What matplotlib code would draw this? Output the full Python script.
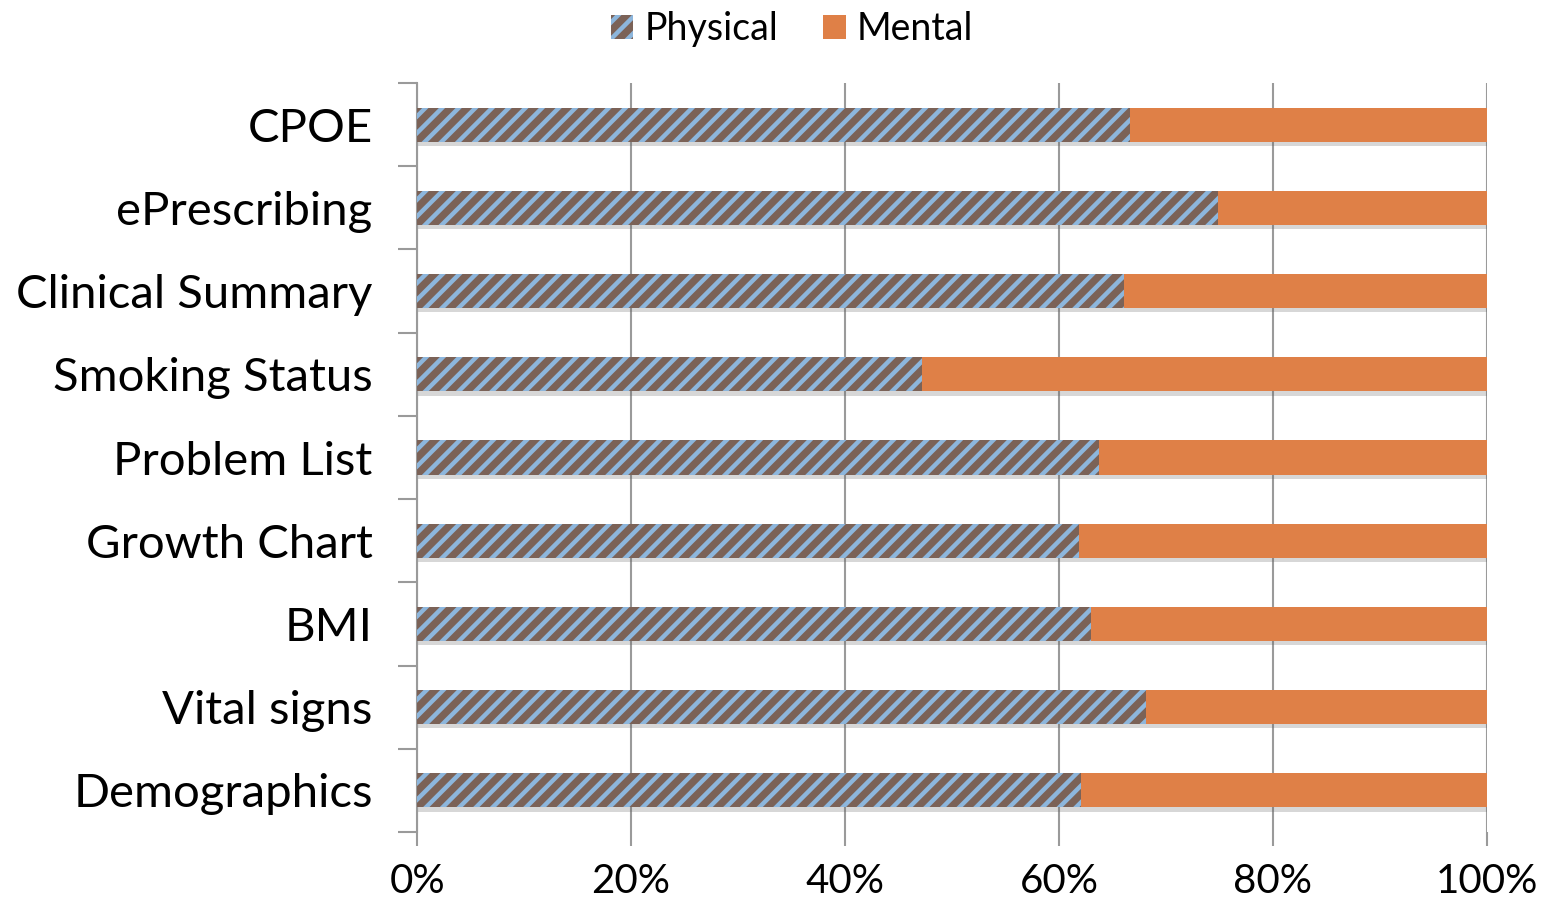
import matplotlib
matplotlib.use("Agg")
import matplotlib.pyplot as plt
import matplotlib.patheffects as pe
from matplotlib.ticker import FuncFormatter

# Data (share of Physical, rest is Mental)
categories = [
    "Demographics",
    "Vital signs",
    "BMI",
    "Growth Chart",
    "Problem List",
    "Smoking Status",
    "Clinical Summary",
    "ePrescribing",
    "CPOE",
]
physical = [62.1, 68.1, 63.0, 61.9, 63.7, 47.2, 66.1, 74.9, 66.6]
mental = [100 - p for p in physical]

brown = "#7b6257"
blue = "#8db6dc"
orange = "#df8047"
grey = "#9a9a9a"

plt.rcParams["font.family"] = ["Lato", "DejaVu Sans"]
plt.rcParams["hatch.linewidth"] = 3.2


def main():
    fig = plt.figure(figsize=(15.47, 8.99), dpi=100)
    ax = fig.add_axes([0.2696, 0.0745, 0.6916, 0.8332])

    y = list(range(len(categories)))

    # soft drop shadow under each bar
    sh = ax.barh(y, [100] * len(y), height=0.41, color="none", linewidth=0, zorder=2)
    for bar in sh:
        bar.set_path_effects([
            pe.SimplePatchShadow(offset=(0, -3), shadow_rgbFace="#606060", alpha=0.25),
        ])

    b1 = ax.barh(y, physical, height=0.41, color=brown, edgecolor=blue, hatch="//",
                 linewidth=0, label="Physical", zorder=3)
    b2 = ax.barh(y, mental, left=physical, height=0.41, color=orange, linewidth=0,
                 label="Mental", zorder=3)

    ax.set_xlim(0, 100)
    ax.set_ylim(-0.5, len(categories) - 0.5)
    ax.set_xticks([0, 20, 40, 60, 80, 100])
    ax.xaxis.set_major_formatter(FuncFormatter(lambda v, _: f"{v:.0f}%"))
    ax.set_yticks(y)
    ax.set_yticklabels(categories)
    ax.set_yticks([i - 0.5 for i in range(len(categories) + 1)], minor=True)

    ax.tick_params(axis="y", which="major", length=0, pad=32, labelsize=34)
    ax.tick_params(axis="y", which="minor", length=14, width=1.5, color=grey, direction="out")
    ax.tick_params(axis="x", length=10, width=1.5, color=grey, direction="out", labelsize=29, pad=12)

    ax.grid(axis="x", color=grey, linewidth=1.5, zorder=0)
    for side in ["top", "right", "bottom"]:
        ax.spines[side].set_visible(False)
    ax.spines["left"].set_color(grey)
    ax.spines["left"].set_linewidth(1.5)
    ax.set_axisbelow(True)

    fig.legend(handles=[b1, b2], loc="upper center", bbox_to_anchor=(0.512, 1.025), ncol=2,
               frameon=False, fontsize=27, handlelength=0.6, handleheight=0.6,
               handletextpad=0.3, columnspacing=1.2)

    fig.savefig("out.png", dpi=100)


if __name__ == "__main__":
    main()
